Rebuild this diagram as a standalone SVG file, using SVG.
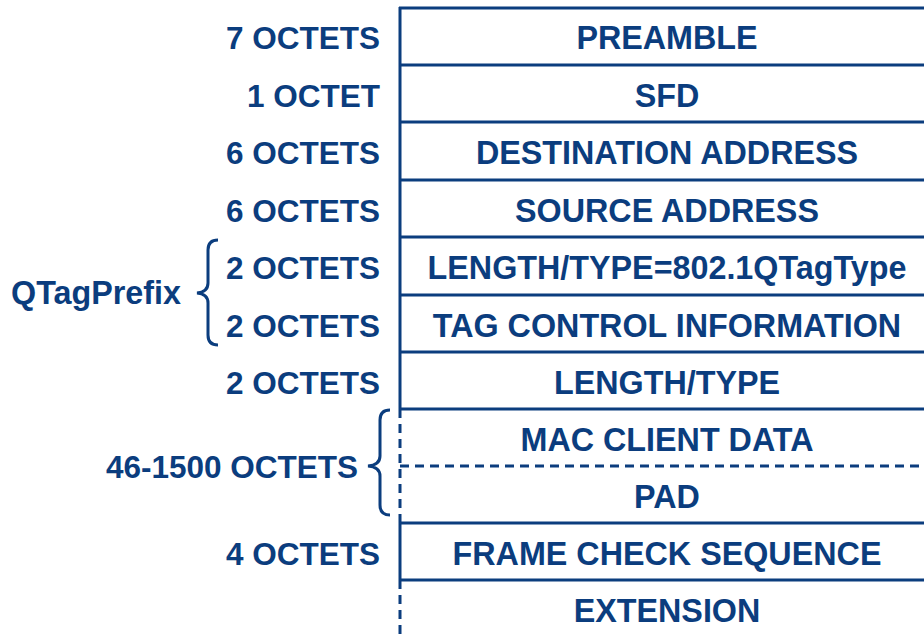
<svg xmlns="http://www.w3.org/2000/svg" width="924" height="636" viewBox="0 0 924 636">
<style>
.t{font-family:"Liberation Sans",Arial,sans-serif;font-weight:bold;font-size:32.3px;fill:#0b3d7e}
.f{text-anchor:middle}
.l{text-anchor:end;font-size:31.5px}
.ln{stroke:#0b3d7e;stroke-width:3;fill:none}
.d{stroke-dasharray:9 6}
</style>
<rect width="924" height="636" fill="#fff"/>
<g id="connectors">
<line class="ln" x1="400" y1="7" x2="400" y2="409"/>
<line class="ln d" x1="400" y1="409" x2="400" y2="523"/>
<line class="ln" x1="400" y1="523" x2="400" y2="580"/>
<line class="ln d" x1="400" y1="580" x2="400" y2="636"/>
<line class="ln" x1="399" y1="8" x2="924" y2="8"/>
<line class="ln" x1="399" y1="65" x2="924" y2="65"/>
<line class="ln" x1="399" y1="122" x2="924" y2="122"/>
<line class="ln" x1="399" y1="180" x2="924" y2="180"/>
<line class="ln" x1="399" y1="237" x2="924" y2="237"/>
<line class="ln" x1="399" y1="295" x2="924" y2="295"/>
<line class="ln" x1="399" y1="352" x2="924" y2="352"/>
<line class="ln" x1="399" y1="409" x2="924" y2="409"/>
<line class="ln d" x1="400" y1="466" x2="924" y2="466"/>
<line class="ln" x1="399" y1="523" x2="924" y2="523"/>
<line class="ln" x1="399" y1="580" x2="924" y2="580"/>
</g>
<g id="brace-qtag">
<path class="ln" d="M218 240 Q208 240 208 250 L208 283 Q208 292 197 293 Q208 294 208 303 L208 335 Q208 345 218 345"/>
<text class="t l" x="181" y="304" style="font-size:32.3px">QTagPrefix</text>
</g>
<g id="brace-data">
<path class="ln" d="M390 410 Q380 410 380 420 L380 456 Q380 465 368 466 Q380 467 380 476 L380 505 Q380 515 390 515"/>
<text class="t l" x="358" y="478">46-1500 OCTETS</text>
</g>
<g id="row-preamble"><text class="t l" x="380" y="49">7 OCTETS</text><text class="t f" x="667" y="49">PREAMBLE</text></g>
<g id="row-sfd"><text class="t l" x="380" y="107">1 OCTET</text><text class="t f" x="667" y="107">SFD</text></g>
<g id="row-dst"><text class="t l" x="380" y="164">6 OCTETS</text><text class="t f" x="667" y="164">DESTINATION ADDRESS</text></g>
<g id="row-src"><text class="t l" x="380" y="222">6 OCTETS</text><text class="t f" x="667" y="222">SOURCE ADDRESS</text></g>
<g id="row-lt1"><text class="t l" x="380" y="279">2 OCTETS</text><text class="t f" x="667" y="279">LENGTH/TYPE=802.1QTagType</text></g>
<g id="row-tci"><text class="t l" x="380" y="337">2 OCTETS</text><text class="t f" x="667" y="337">TAG CONTROL INFORMATION</text></g>
<g id="row-lt2"><text class="t l" x="380" y="394">2 OCTETS</text><text class="t f" x="667" y="394">LENGTH/TYPE</text></g>
<g id="row-data"><text class="t f" x="667" y="451">MAC CLIENT DATA</text></g>
<g id="row-pad"><text class="t f" x="667" y="508">PAD</text></g>
<g id="row-fcs"><text class="t l" x="380" y="565">4 OCTETS</text><text class="t f" x="667" y="565">FRAME CHECK SEQUENCE</text></g>
<g id="row-ext"><text class="t f" x="667" y="622">EXTENSION</text></g>
</svg>
